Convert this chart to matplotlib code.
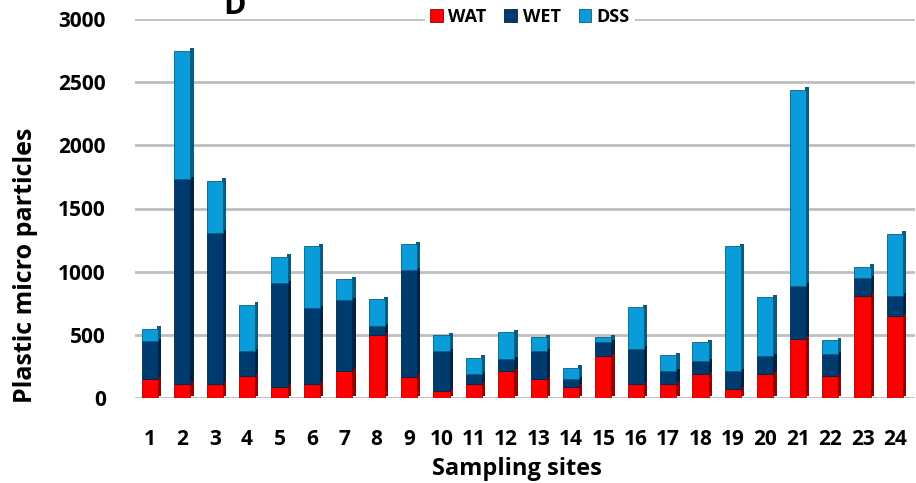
import numpy as np
import matplotlib.pyplot as plt
from matplotlib.colors import to_rgb

plt.rcParams['font.family'] = ['Open Sans', 'DejaVu Sans']
plt.rcParams['font.weight'] = 'bold'

sites = list(range(1, 25))
wat = [150, 110, 110, 175, 90, 110, 210, 500, 170, 55, 110, 210,
       150, 90, 330, 110, 110, 190, 70, 190, 470, 175, 810, 650]
wet = [300, 1620, 1200, 195, 820, 600, 565, 70, 840, 315, 80, 100,
       220, 60, 110, 280, 100, 100, 140, 140, 420, 175, 140, 160]
dss = [100, 1020, 410, 370, 210, 490, 165, 210, 210, 130, 130, 210,
       110, 90, 40, 330, 130, 150, 990, 470, 1550, 110, 90, 490]

colors = {'WAT': '#FF0000', 'WET': '#003B6F', 'DSS': '#0A9BD9'}

fig = plt.figure(figsize=(9.16, 4.83), dpi=100)
ax = fig.add_axes([135 / 916, 85 / 483, 780 / 916, 379 / 483])

x = np.array(sites)
w = 0.5
depth = 0.12
bottom = np.zeros(len(sites))
for name, vals in [('WAT', wat), ('WET', wet), ('DSS', dss)]:
    vals = np.array(vals)
    dark = tuple(c * 0.6 for c in to_rgb(colors[name]))
    # thin darker side face for a bit of depth
    ax.bar(x + w / 2 + depth / 2 - 0.02, vals, bottom=bottom + 18, width=depth,
           color=dark, zorder=2)
    ax.bar(x, vals, bottom=bottom, width=w, color=colors[name], label=name,
           edgecolor=dark, linewidth=0.6, zorder=3)
    bottom += vals

ax.set_xlim(0.54, 24.62)
ax.set_ylim(0, 3000)
ax.set_yticks(range(0, 3001, 500))
ax.set_xticks(sites)
ax.yaxis.grid(True, color='#BFBFBF', linewidth=2)
ax.set_axisbelow(True)
for s in ax.spines.values():
    s.set_visible(False)
ax.tick_params(length=0, labelsize=15)
ax.tick_params(axis='y', pad=21)
ax.tick_params(axis='x', pad=22)

ax.set_xlabel('Sampling sites', fontsize=17, fontweight='bold', labelpad=0)
ax.set_ylabel('Plastic micro particles', fontsize=18, fontweight='bold')
ax.yaxis.set_label_coords(-0.124, 0.35)
ax.xaxis.set_label_coords(0.49, -0.155)

leg = fig.legend(loc='center', bbox_to_anchor=(530 / 916, 1 - 17 / 483), ncol=3,
                 frameon=True, fontsize=13, handlelength=0.7, handleheight=0.7,
                 handletextpad=0.3, columnspacing=1.0, borderpad=0.3)
leg.get_frame().set_edgecolor('none')
leg.get_frame().set_facecolor('white')
leg.get_frame().set_alpha(1)

fig.text(235 / 916, 1 - 6 / 483, 'D', fontsize=22, fontweight='bold', ha='center', va='center')

fig.savefig('out.png', dpi=100)
